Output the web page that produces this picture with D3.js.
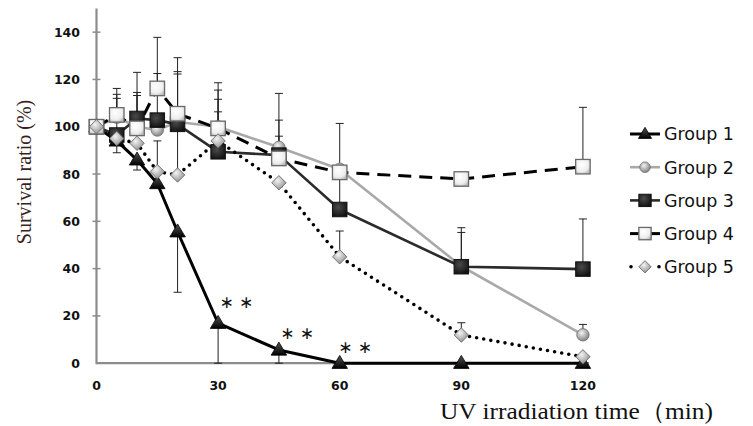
<!DOCTYPE html>
<html><head><meta charset="utf-8">
<script src="https://cdn.jsdelivr.net/npm/d3@7/dist/d3.min.js"></script>
<style>body{margin:0;background:#fff}svg{display:block}</style>
</head><body>
<svg id="c" width="753" height="426"></svg>
<script>
const times = [0, 5, 10, 15, 20, 30, 45, 60, 90, 120];
const xTicks = [0, 30, 60, 90, 120];
const yTicks = [0, 20, 40, 60, 80, 100, 120, 140];
const seriesNames = ["Group 1", "Group 2", "Group 3", "Group 4", "Group 5"];
const group1 = [100, 94, 86, 76, 55.6, 16.9, 5.6, 0, 0, 0];
const group2 = [100, 104, 100, 98.6, 102, 100, 91.3, 82, 41, 12];
const group3 = [100, 96.5, 103.5, 102.8, 101, 89.4, 88, 65, 40.8, 39.8];
const group4 = [100, 105, 99.3, 116.2, 105.5, 99.3, 86.6, 80.7, 77.9, 83.1];
const group5 = [100, 95, 93, 81, 79.6, 94, 76.3, 45, 11.9, 2.7];
// error bars (upper / lower lengths), null = not drawn
const err1Up = [null, null, null, null, null, null, null, null, null, null];
const err1Dn = [null, 5, 4.3, null, 25.6, 16.9, 5.6, null, null, null];
const err2Up = [null, 9.7, 13.2, null, null, 18.6, 11.5, null, 14.3, 4.4];
const err2Dn = [null, null, null, null, null, null, null, null, null, null];
const err3Up = [null, 15.5, 19.5, 19.7, 21.3, 22.2, 8, 16, 16.5, 21.2];
const err3Dn = [null, null, null, null, null, null, null, null, null, null];
const err4Up = [null, 11.2, 15.2, 21.6, 23.7, 16.2, 27.5, 20.7, null, 25.1];
const err4Dn = [null, null, null, null, null, null, null, null, null, null];
const err5Up = [null, null, null, 13, 43.7, 12.3, null, 10.9, 5.2, null];
const err5Dn = [null, null, null, null, null, null, null, null, null, null];
// significance marks (time, value)
const sigMarks = [[34.5, 25.5], [49.5, 12.3], [63.8, 6.4]];
const sigText = "∗ ∗";

const svg = d3.select("#c");
const x = d3.scaleLinear().domain([0, 121.5]).range([96.5, 589]);
const y = d3.scaleLinear().domain([0, 150]).range([363.2, 8.5]);

const defs = svg.append("defs");
function radial(id, stops) {
  const g = defs.append("radialGradient").attr("id", id).attr("cx", "40%").attr("cy", "35%").attr("r", "70%");
  stops.forEach(s => g.append("stop").attr("offset", s[0]).attr("stop-color", s[1]));
}
function linear(id, stops) {
  const g = defs.append("linearGradient").attr("id", id).attr("x1", "0").attr("y1", "0").attr("x2", "0").attr("y2", "1");
  stops.forEach(s => g.append("stop").attr("offset", s[0]).attr("stop-color", s[1]));
}
linear("gTri", [["0%", "#555"], ["100%", "#000"]]);
radial("gCir", [["0%", "#f2f2f2"], ["100%", "#7a7a7a"]]);
radial("gSq3", [["0%", "#4a4a4a"], ["100%", "#111"]]);
radial("gSq4", [["0%", "#ffffff"], ["70%", "#eeeeee"], ["100%", "#bdbdbd"]]);
radial("gDia", [["0%", "#f4f4f4"], ["100%", "#8a8a8a"]]);

const series = [
  {name: seriesNames[0], v: group1, up: err1Up, dn: err1Dn, stroke: "#000", w: 3, dash: null, cap: "butt", marker: "tri"},
  {name: seriesNames[1], v: group2, up: err2Up, dn: err2Dn, stroke: "#a9a9a9", w: 2.6, dash: null, cap: "butt", marker: "cir"},
  {name: seriesNames[2], v: group3, up: err3Up, dn: err3Dn, stroke: "#2b2b2b", w: 2.6, dash: null, cap: "butt", marker: "sq3"},
  {name: seriesNames[3], v: group4, up: err4Up, dn: err4Dn, stroke: "#000", w: 3, dash: "13,8", cap: "butt", marker: "sq4"},
  {name: seriesNames[4], v: group5, up: err5Up, dn: err5Dn, stroke: "#000", w: 3.6, dash: "0,7.2", cap: "round", marker: "dia"}
];

function drawMarker(g, type, cx, cy, s) {
  if (type === "tri") {
    const h = 13 * s, w = 15.5 * s;
    g.append("path").attr("d", `M${cx},${cy - h * 0.6}L${cx + w / 2},${cy + h * 0.4}L${cx - w / 2},${cy + h * 0.4}Z`)
      .attr("fill", "url(#gTri)").attr("stroke", "#000").attr("stroke-width", 0.8);
  } else if (type === "cir") {
    g.append("circle").attr("cx", cx).attr("cy", cy).attr("r", 6.2 * s)
      .attr("fill", "url(#gCir)").attr("stroke", "#6e6e6e").attr("stroke-width", 0.8);
  } else if (type === "sq3") {
    const a = 14.5 * s;
    g.append("rect").attr("x", cx - a / 2).attr("y", cy - a / 2).attr("width", a).attr("height", a)
      .attr("fill", "url(#gSq3)").attr("stroke", "#111").attr("stroke-width", 1);
  } else if (type === "sq4") {
    const a = 14.5 * s;
    g.append("rect").attr("x", cx - a / 2).attr("y", cy - a / 2).attr("width", a).attr("height", a)
      .attr("fill", "url(#gSq4)").attr("stroke", "#6a6a6a").attr("stroke-width", 1.3);
  } else if (type === "dia") {
    const r = 7.2 * s;
    g.append("path").attr("d", `M${cx},${cy - r}L${cx + r},${cy}L${cx},${cy + r}L${cx - r},${cy}Z`)
      .attr("fill", "url(#gDia)").attr("stroke", "#6a6a6a").attr("stroke-width", 0.9);
  }
}

// axes
const axisColor = "#8c8c8c";
svg.append("line").attr("x1", x(0)).attr("x2", x(121.5)).attr("y1", y(0)).attr("y2", y(0))
  .attr("stroke", axisColor).attr("stroke-width", 2.2);
const yAxis = d3.axisLeft(y).tickValues(yTicks).tickSize(0).tickPadding(0).tickFormat(d3.format("d"));
const ya = svg.append("g").attr("transform", `translate(${x(0)},0)`).call(yAxis);
ya.select(".domain").remove();
ya.selectAll(".tick text").remove();
svg.append("line").attr("x1", x(0)).attr("x2", x(0)).attr("y1", y(0) + 1).attr("y2", y(150))
  .attr("stroke", axisColor).attr("stroke-width", 2.2);
svg.append("g").selectAll("line").data(yTicks.slice(1)).join("line")
  .attr("x1", x(0) - 4).attr("x2", x(0) + 4).attr("y1", d => y(d)).attr("y2", d => y(d))
  .attr("stroke", axisColor).attr("stroke-width", 1.5);
svg.append("g").selectAll("text").data(yTicks).join("text")
  .attr("x", 80).attr("y", d => y(d)).attr("dy", "0.36em").attr("text-anchor", "end")
  .attr("font-family", "DejaVu Sans").attr("font-weight", "bold").attr("font-size", 12.5).attr("fill", "#111")
  .text(d => d);
svg.append("g").selectAll("text").data(xTicks).join("text")
  .attr("x", d => x(d)).attr("y", 385).attr("dy", "0.36em").attr("text-anchor", "middle")
  .attr("font-family", "DejaVu Sans").attr("font-weight", "bold").attr("font-size", 12.5).attr("fill", "#111")
  .text(d => d);

// error bars
const eg = svg.append("g").attr("stroke", "#222").attr("stroke-width", 1);
series.forEach(s => {
  times.forEach((t, i) => {
    const cx = x(t), v = s.v[i];
    [[s.up[i], 1], [s.dn[i], -1]].forEach(([e, dir]) => {
      if (e == null) return;
      const ye = y(v + dir * e);
      eg.append("line").attr("x1", cx).attr("x2", cx).attr("y1", y(v)).attr("y2", ye);
      eg.append("line").attr("x1", cx - 4).attr("x2", cx + 4).attr("y1", ye).attr("y2", ye);
    });
  });
});

// lines
const line = d3.line().x((d, i) => x(times[i])).y(d => y(d));
series.forEach(s => {
  svg.append("path").attr("d", line(s.v)).attr("fill", "none").attr("stroke", s.stroke)
    .attr("stroke-width", s.w).attr("stroke-dasharray", s.dash).attr("stroke-linecap", s.cap)
    .attr("stroke-linejoin", "round");
});

// markers
series.forEach(s => {
  const g = svg.append("g");
  s.v.forEach((v, i) => drawMarker(g, s.marker, x(times[i]), y(v), 1));
});

// significance marks
svg.append("g").selectAll("text").data(sigMarks).join("text")
  .attr("x", d => x(d[0])).attr("y", d => y(d[1])).attr("dy", "0.3em").attr("text-anchor", "middle")
  .attr("font-family", "DejaVu Sans").attr("font-size", 17).attr("fill", "#111")
  .text(sigText);

// legend
const lg = svg.append("g");
series.forEach((s, i) => {
  const ly = 134 + i * 33.2;
  const g = lg.append("g");
  if (s.marker === "dia") {
    [631, 659].forEach(px => g.append("circle").attr("cx", px).attr("cy", ly).attr("r", 1.8).attr("fill", "#000"));
  } else {
    g.append("line").attr("x1", 630).attr("x2", 660).attr("y1", ly).attr("y2", ly)
      .attr("stroke", s.stroke).attr("stroke-width", s.w);
  }
  drawMarker(g, s.marker, 645, ly, 0.85);
  g.append("text").attr("x", 664).attr("y", ly).attr("dy", "0.36em")
    .attr("font-family", "DejaVu Sans").attr("font-size", 17.5).attr("fill", "#111").text(s.name);
});

// axis titles
svg.append("text").attr("transform", "translate(31,172) rotate(-90)").attr("text-anchor", "middle")
  .attr("font-family", "Liberation Serif").attr("font-size", 20).attr("fill", "#3a1f1f")
  .text("Survival ratio (%)");
svg.append("text").attr("x", 440).attr("y", 419).attr("textLength", 273).attr("lengthAdjust", "spacingAndGlyphs")
  .attr("font-family", "Liberation Serif").attr("font-size", 24).attr("fill", "#111")
  .text("UV irradiation time（min)");
</script>
</body></html>
